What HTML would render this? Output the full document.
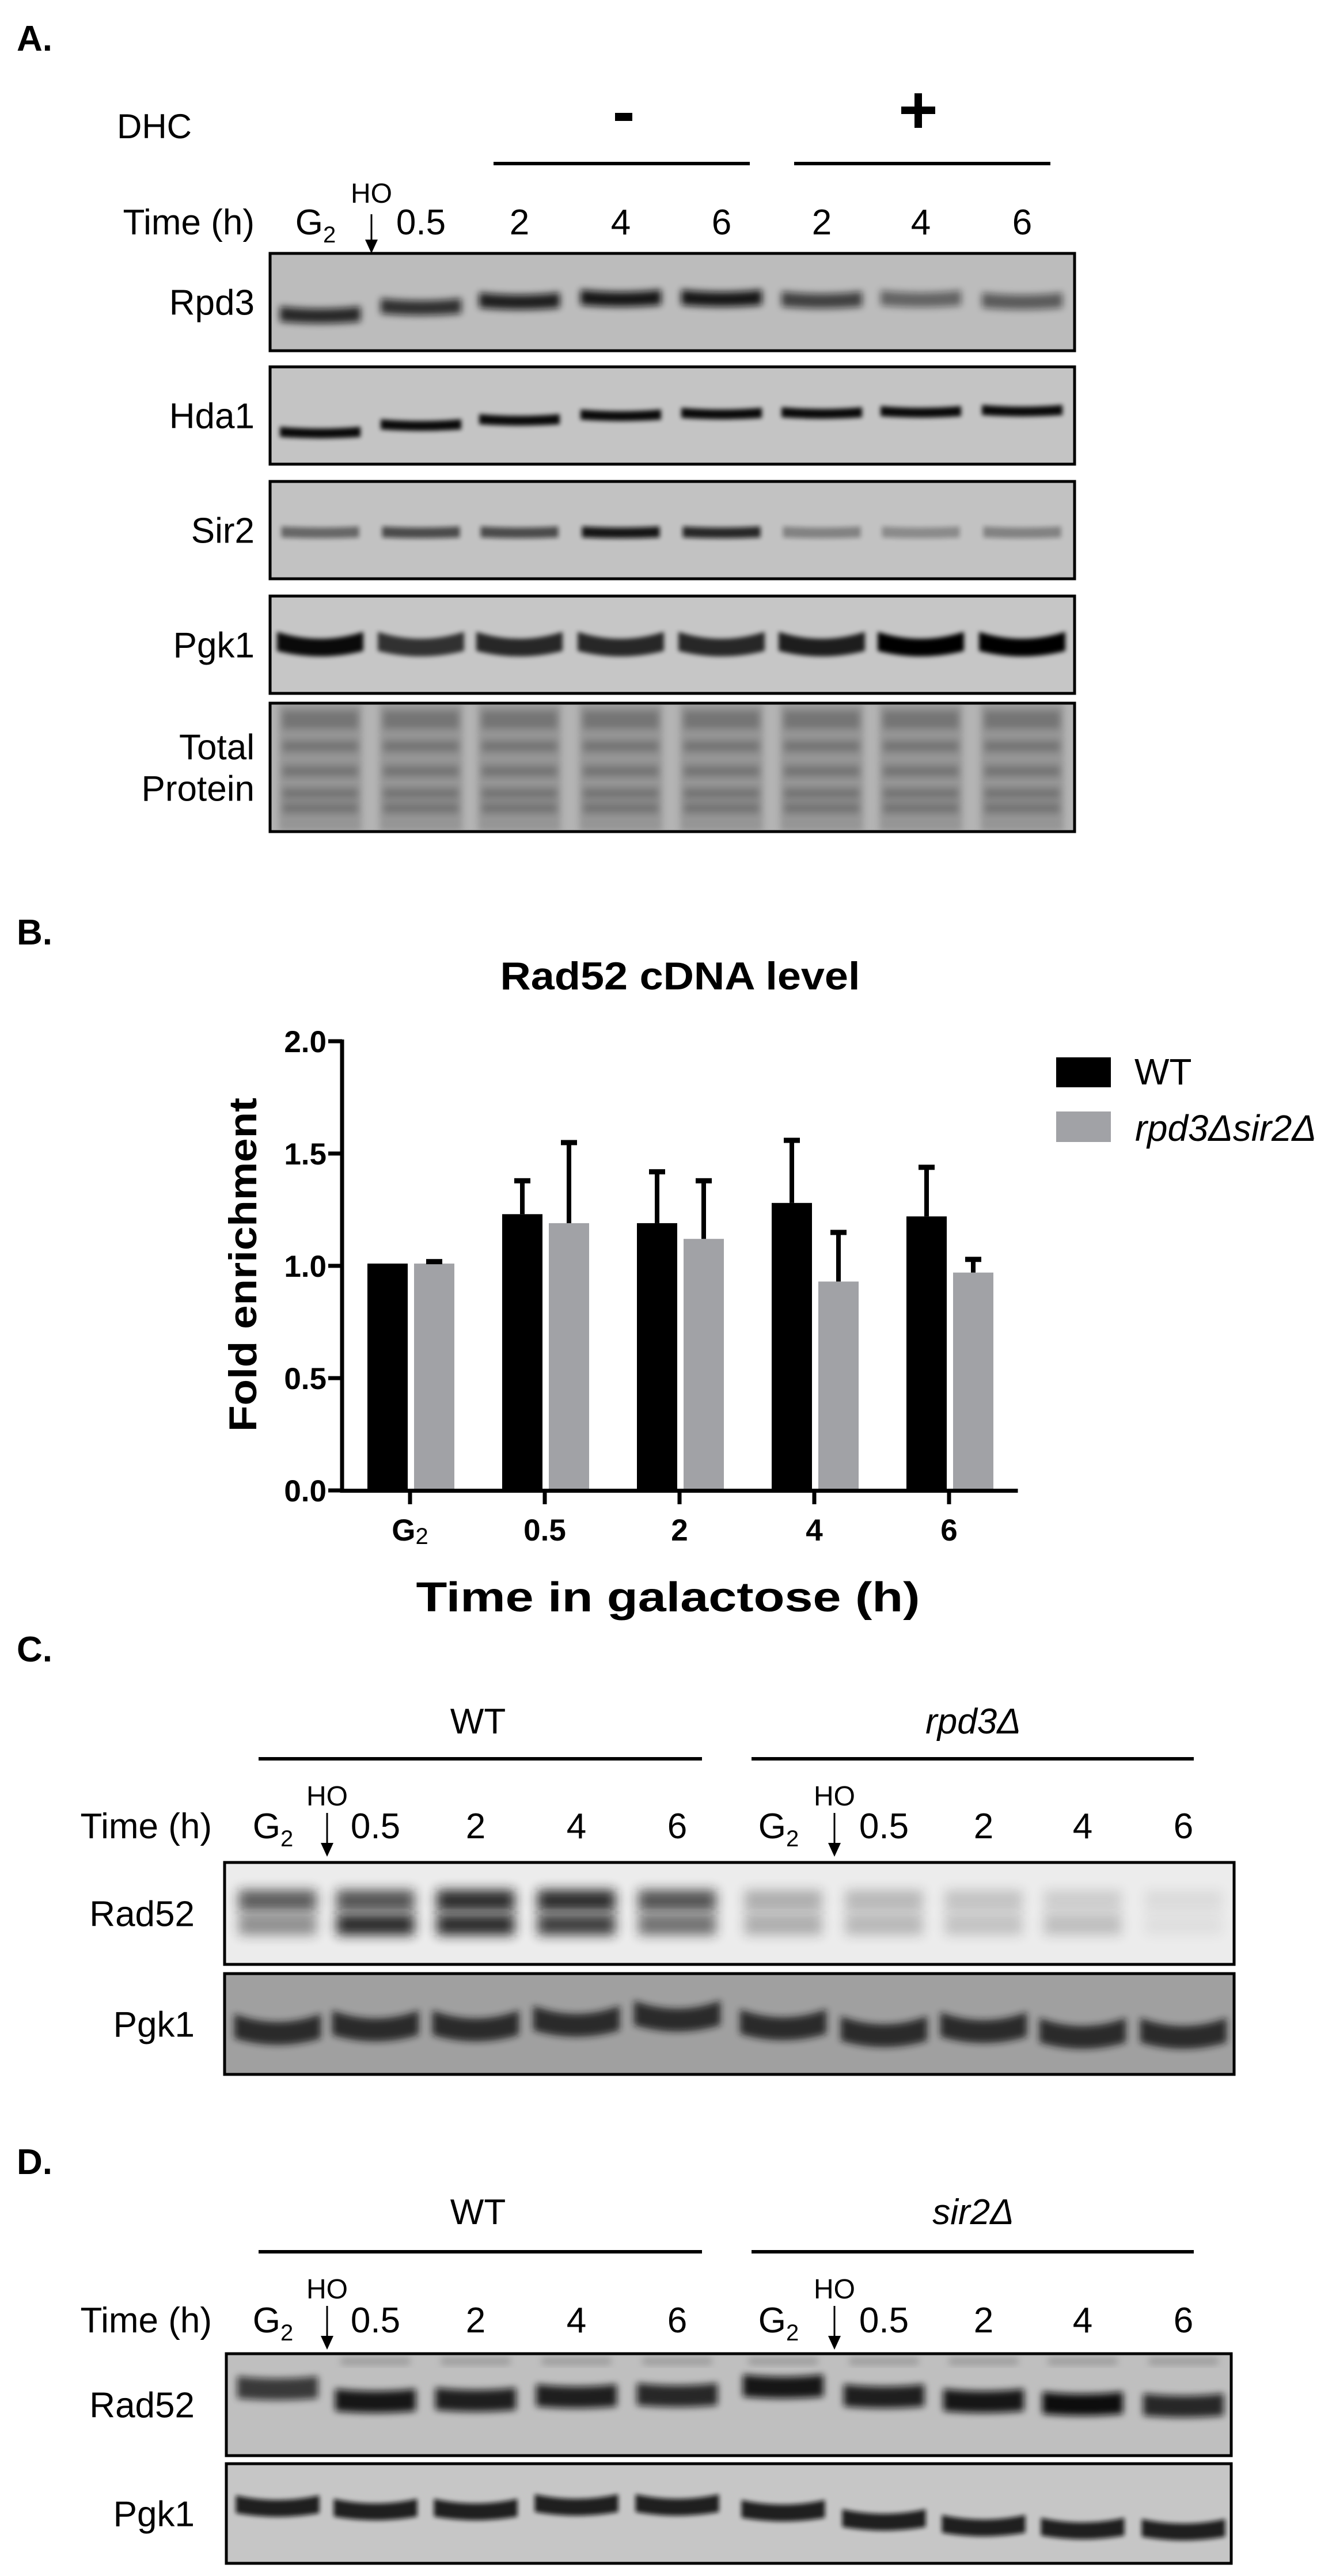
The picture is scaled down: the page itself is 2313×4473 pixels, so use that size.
<!DOCTYPE html>
<html><head><meta charset="utf-8"><style>
html,body{margin:0;padding:0;background:#fff;}
svg{display:block;}
text{font-family:"Liberation Sans",Arial,sans-serif;}
</style></head><body>
<svg id="fig" width="2313" height="4473" viewBox="0 0 2313 4473" xmlns="http://www.w3.org/2000/svg">
<defs>
<filter id="b6" x="-20%" y="-50%" width="140%" height="200%"><feGaussianBlur stdDeviation="6"/></filter>
<filter id="b10" x="-30%" y="-100%" width="160%" height="300%"><feGaussianBlur stdDeviation="10"/></filter>
<filter id="b4" x="-20%" y="-80%" width="140%" height="260%"><feGaussianBlur stdDeviation="4"/></filter>
</defs>

<!-- Panel A -->
<text x="29" y="88" font-size="62" font-weight="bold">A.</text>
<text x="203" y="240" font-size="60">DHC</text>
<rect x="1068" y="196" width="30" height="14" fill="#000"/>
<g><rect x="1588" y="162" width="13" height="60" fill="#000"/><rect x="1565" y="185" width="59" height="13" fill="#000"/></g>
<rect x="857" y="281" width="445" height="6" fill="#000"/>
<rect x="1379" y="281" width="445" height="6" fill="#000"/>
<g id="aTime"></g>
<g id="aBlots"></g>

<!-- Panel B -->
<text x="29" y="1640" font-size="62" font-weight="bold">B.</text>
<g id="chart"></g>

<!-- Panel C -->
<text x="29" y="2885" font-size="62" font-weight="bold">C.</text>
<g id="cPanel"></g>
<!-- Panel D -->
<text x="29" y="3775" font-size="62" font-weight="bold">D.</text>
<g id="dPanel"></g>
</svg>
<script>
// ===== Chart data (panel B) =====
const categories = ["G2", "0.5", "2", "4", "6"];
const wtValues = [1.01, 1.23, 1.19, 1.28, 1.22];
const wtErrors = [0.0, 0.15, 0.23, 0.28, 0.22];
const mutValues = [1.01, 1.19, 1.12, 0.93, 0.97];
const mutErrors = [0.01, 0.36, 0.26, 0.22, 0.06];
const yTicks = [0.0, 0.5, 1.0, 1.5, 2.0];
const yTickLabels = ["0.0", "0.5", "1.0", "1.5", "2.0"];

const NS = "http://www.w3.org/2000/svg";
function mk(tag, attrs, parent) {
  const e = document.createElementNS(NS, tag);
  for (const k in attrs) e.setAttribute(k, attrs[k]);
  if (parent) parent.appendChild(e);
  return e;
}
function txt(parent, x, y, s, size, anchor, extra) {
  const t = mk("text", Object.assign({x: x, y: y, "font-size": size, "text-anchor": anchor || "start"}, extra || {}), parent);
  t.textContent = s;
  return t;
}

// ===== Chart =====
(function () {
  const g = document.getElementById("chart");
  const axX = 594, axRight = 1768, y0 = 2588, yTop = 1808;
  const yScale = v => y0 - (v / 2.0) * (y0 - yTop);
  const x0 = 712, step = 234;
  const xScale = i => x0 + i * step;
  const bw = 70;

  const title = txt(g, 1181, 1718, "Rad52 cDNA level", 68, "middle", {"font-weight": "bold", textLength: 625, lengthAdjust: "spacingAndGlyphs"});
  
  

  categories.forEach((c, i) => {
    const cx = xScale(i);
    const wb = mk("rect", {x: cx - 39 - bw / 2, y: yScale(wtValues[i]), width: bw, height: y0 - yScale(wtValues[i]), fill: "#000"}, g);
    
    
    const mb = mk("rect", {x: cx + 42 - bw / 2, y: yScale(mutValues[i]), width: bw, height: y0 - yScale(mutValues[i]), fill: "#a1a2a6"}, g);
    
    
    [[cx - 39, wtValues[i], wtErrors[i]], [cx + 42, mutValues[i], mutErrors[i]]].forEach((d, k) => {
      if (d[2] <= 0) return;
      const eg = mk("g", {}, g);
      
      
      const top = yScale(d[1] + d[2]);
      mk("rect", {x: d[0] - 4, y: top, width: 8, height: yScale(d[1]) - top, fill: "#000"}, eg);
      mk("rect", {x: d[0] - 14, y: top - 4, width: 28, height: 9, fill: "#000"}, eg);
    });
    const tk = mk("rect", {x: cx - 3.5, y: y0, width: 7, height: 24, fill: "#000"}, g);
    
    
    let lab;
    if (c === "G2") {
      lab = mk("text", {x: cx, y: 2675, "font-size": 53, "font-weight": "bold", "text-anchor": "middle"}, g);
      lab.textContent = "G";
      const sub = mk("tspan", {"font-size": 40, "font-weight": "normal", dy: 6}, lab);
      sub.textContent = "2";
    } else {
      lab = txt(g, cx, 2675, c, 53, "middle", {"font-weight": "bold"});
    }
    
    
  });

  const ya = mk("rect", {x: axX - 3.5, y: yTop - 3, width: 7, height: y0 - yTop + 6, fill: "#000"}, g);
  
  
  const xa = mk("rect", {x: axX - 3.5, y: y0 - 3, width: axRight - axX + 3, height: 7, fill: "#000"}, g);
  
  
  yTicks.forEach((v, i) => {
    const yy = yScale(v);
    const t = mk("rect", {x: axX - 24, y: yy - 3.5, width: 24, height: 7, fill: "#000"}, g);
    
    
    const l = txt(g, 567, yy + 19, yTickLabels[i], 53, "end", {"font-weight": "bold"});
    
    
  });
  const yt = txt(g, 0, 0, "Fold enrichment", 68, "middle", {"font-weight": "bold", transform: "translate(445,2196) rotate(-90)", textLength: 580, lengthAdjust: "spacingAndGlyphs"});
  
  
  const xt = txt(g, 1160, 2798, "Time in galactose (h)", 72, "middle", {"font-weight": "bold", textLength: 875, lengthAdjust: "spacingAndGlyphs"});
  
  

  const l1 = mk("rect", {x: 1834, y: 1836, width: 95, height: 52, fill: "#000"}, g);
  
  
  const l2 = mk("rect", {x: 1834, y: 1930, width: 95, height: 53, fill: "#a1a2a6"}, g);
  
  
  const lt1 = txt(g, 1970, 1883, "WT", 64, "start");
  
  
  const lt2 = txt(g, 1971, 1981, "rpd3Δsir2Δ", 64, "start", {"font-style": "italic", textLength: 315, lengthAdjust: "spacingAndGlyphs"});
  
  
})();

// ===== Blot helpers =====
function laneLabels(parent, lanes, labels, y) {
  lanes.forEach((lx, i) => {
    let t;
    if (labels[i] === "G2") {
      t = mk("text", {x: lx - 8, y: y + 22, "font-size": 62, "text-anchor": "middle"}, parent);
      t.textContent = "G";
      const sb = mk("tspan", {"font-size": 40, dy: 14}, t);
      sb.textContent = "2";
    } else {
      t = txt(parent, lx, y + 22, labels[i], 62, "middle");
    }
    
    
  });
}
function hoArrow(parent, x, yText, yA, yB) {
  const g = mk("g", {}, parent);
  
  
  txt(g, x, yText, "HO", 48, "middle");
  mk("rect", {x: x - 1.5, y: yA, width: 3, height: yB - yA - 20, fill: "#000"}, g);
  mk("path", {d: `M${x - 11},${yB - 24} L${x + 11},${yB - 24} L${x},${yB} Z`, fill: "#000"}, g);
}
function blotBox(parent, name, label, labelRightX, x1, y1, x2, y2, bg) {
  const g = mk("g", {}, parent);
  
  
  mk("rect", {x: x1, y: y1, width: x2 - x1, height: y2 - y1, fill: bg}, g);
  const inner = mk("g", {}, g);
  mk("rect", {x: x1, y: y1, width: x2 - x1, height: y2 - y1, fill: "none", stroke: "#000", "stroke-width": 5}, g);
  const clip = mk("clipPath", {id: "clip-" + name}, g);
  mk("rect", {x: x1 + 3, y: y1 + 3, width: x2 - x1 - 6, height: y2 - y1 - 6}, clip);
  inner.setAttribute("clip-path", "url(#clip-" + name + ")");
  const lines = label.split("\n");
  const cy = (y1 + y2) / 2;
  lines.forEach((ln, i) => {
    const t = txt(g, labelRightX, cy + 22 + (i - (lines.length - 1) / 2) * 72, ln, 62, "end");
    
    
  });
  return inner;
}
function band(parent, cx, cy, w, h, color, opacity, curve, blur) {
  const p = mk("path", {
    d: `M${cx - w / 2},${cy - h / 2 - curve} Q${cx},${cy - h / 2 + curve} ${cx + w / 2},${cy - h / 2 - curve} L${cx + w / 2},${cy + h / 2 - curve * 0.4} Q${cx},${cy + h / 2 + curve * 1.2} ${cx - w / 2},${cy + h / 2 - curve * 0.4} Z`,
    fill: color, opacity: opacity, filter: "url(#" + (blur || "b6") + ")"
  }, parent);
  
  
  return p;
}

// ===== Panel A =====
const aLanes = [556, 731, 902, 1078, 1253, 1427, 1599, 1775];
const aLabels = ["G2", "0.5", "2", "4", "6", "2", "4", "6"];
(function () {
  const tg = document.getElementById("aTime");
  const tl = txt(tg, 442, 407, "Time (h)", 62, "end");
  
  
  laneLabels(tg, aLanes, aLabels, 385);
  hoArrow(tg, 645, 352, 372, 440);
  const bg = document.getElementById("aBlots");
  const L = 442, X1 = 469, X2 = 1866;
  let r = blotBox(bg, "blot-rpd3", "Rpd3", L, X1, 440, X2, 609, "#bcbcbc");
  const rpdY = [548, 534, 524, 519, 519, 522, 520, 524], rpdO = [0.85, 0.8, 0.9, 0.95, 0.95, 0.7, 0.5, 0.55];
  aLanes.forEach((x, i) => band(r, x, rpdY[i], 140, 24, "#111", rpdO[i], 4));
  r = blotBox(bg, "blot-hda1", "Hda1", L, X1, 637, X2, 806, "#c4c4c4");
  const hdY = [752, 739, 730, 722, 719, 718, 716, 714];
  aLanes.forEach((x, i) => band(r, x, hdY[i], 140, 16, "#000", 0.95, 3, "b4"));
  r = blotBox(bg, "blot-sir2", "Sir2", L, X1, 836, X2, 1005, "#c2c2c2");
  const sirO = [0.5, 0.65, 0.65, 0.95, 0.85, 0.35, 0.3, 0.35];
  aLanes.forEach((x, i) => band(r, x, 925, 135, 18, "#111", sirO[i], 2, "b4"));
  r = blotBox(bg, "blot-pgk1-a", "Pgk1", L, X1, 1035, X2, 1204, "#c6c6c6");
  const pgO = [0.95, 0.75, 0.8, 0.8, 0.8, 0.85, 1, 1];
  aLanes.forEach((x, i) => band(r, x, 1122, 150, 26, "#000", pgO[i], 12, "b4"));
  r = blotBox(bg, "blot-total-protein", "Total\nProtein", L, X1, 1221, X2, 1444, "#b4b4b4");
  aLanes.forEach((x) => {
    const lg = mk("rect", {x: x - 72, y: 1221, width: 144, height: 223, fill: "#959595", filter: "url(#b6)"}, r);
    
    
    [1250, 1296, 1339, 1378, 1403].forEach((yy, k) => band(r, x, yy, 130, k === 0 ? 30 : 18, "#5e5e5e", 0.6, 0, "b6"));
  });
})();

// ===== Panels C & D =====
const cdLanes = [482, 652, 826, 1001, 1176, 1360, 1535, 1708, 1880, 2055];
const cdLabels = ["G2", "0.5", "2", "4", "6", "G2", "0.5", "2", "4", "6"];
function cdHeader(g, mutName, yHead, yLine, yHO, yTime) {
  const w = txt(g, 830, yHead + 22, "WT", 62, "middle");
  
  
  const m = txt(g, 1690, yHead + 22, mutName, 62, "middle", {"font-style": "italic"});
  
  
  const b1 = mk("rect", {x: 449, y: yLine - 3, width: 770, height: 6, fill: "#000"}, g);
  
  
  const b2 = mk("rect", {x: 1305, y: yLine - 3, width: 768, height: 6, fill: "#000"}, g);
  
  
  const tl = txt(g, 368, yTime + 22, "Time (h)", 62, "end");
  
  
  laneLabels(g, cdLanes, cdLabels, yTime);
  hoArrow(g, 568, yHO + 17, yHO + 30, yHO + 106);
  hoArrow(g, 1449, yHO + 17, yHO + 30, yHO + 106);
}
(function () {
  const g = document.getElementById("cPanel");
  cdHeader(g, "rpd3Δ", 2988, 3054, 3118, 3170);
  let r = blotBox(g, "blot-rad52-c", "Rad52", 338, 390, 3234, 2143, 3411, "#ececec");
  const up = [0.7, 0.75, 0.95, 0.95, 0.75, 0.3, 0.25, 0.2, 0.15, 0.08];
  const lo = [0.45, 0.95, 0.95, 0.85, 0.6, 0.3, 0.25, 0.2, 0.22, 0.06];
  cdLanes.forEach((x, i) => {
    band(r, x, 3300, 135, 36, "#1a1a1a", up[i], 0, "b10");
    band(r, x, 3342, 135, 36, "#1a1a1a", lo[i], 0, "b10");
  });
  r = blotBox(g, "blot-pgk1-c", "Pgk1", 338, 390, 3427, 2143, 3602, "#a0a0a0");
  const pY = [3528, 3522, 3522, 3514, 3505, 3520, 3532, 3525, 3535, 3535];
  cdLanes.forEach((x, i) => band(r, x, pY[i], 150, 34, "#151515", 0.85, 14, "b6"));
})();
(function () {
  const g = document.getElementById("dPanel");
  cdHeader(g, "sir2Δ", 3840, 3910, 3974, 4028);
  let r = blotBox(g, "blot-rad52-d", "Rad52", 338, 393, 4087, 2138, 4264, "#bfbfbf");
  const dY = [4148, 4170, 4168, 4162, 4160, 4145, 4162, 4170, 4175, 4178];
  const dO = [0.75, 0.95, 0.9, 0.9, 0.85, 0.95, 0.9, 0.95, 1, 0.85];
  cdLanes.forEach((x, i) => {
    band(r, x, dY[i], 140, 36, "#0d0d0d", dO[i], 4, "b6");
    if (i > 0) band(r, x, 4100, 120, 12, "#555", 0.35, 0, "b6");
  });
  r = blotBox(g, "blot-pgk1-d", "Pgk1", 338, 393, 4278, 2138, 4451, "#c6c6c6");
  const qY = [4354, 4360, 4360, 4352, 4352, 4362, 4378, 4388, 4393, 4395];
  cdLanes.forEach((x, i) => band(r, x, qY[i], 145, 26, "#0a0a0a", 0.9, 8, "b4"));
})();
</script>
</body></html>
